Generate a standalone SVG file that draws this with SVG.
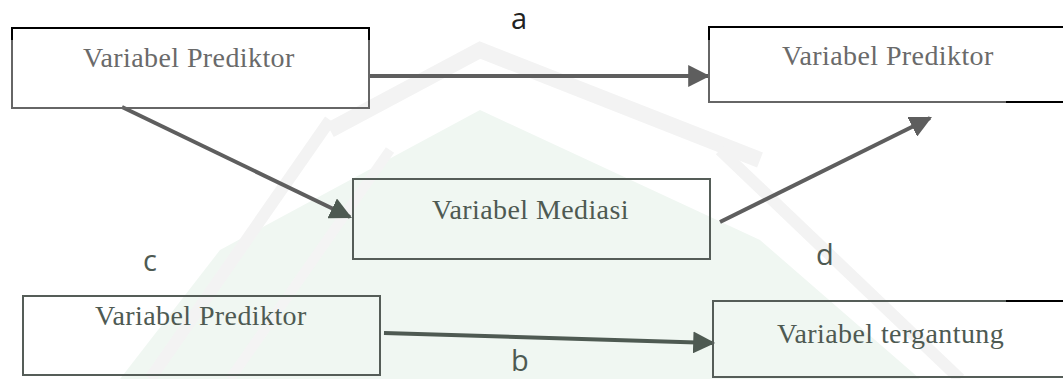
<svg xmlns="http://www.w3.org/2000/svg" width="1063" height="379" viewBox="0 0 1063 379">
<defs>
<style>
.box{fill:none;stroke:#666;stroke-width:2}
.blk{fill:none;stroke:#000;stroke-width:2}
.lbl{font-family:"Liberation Serif","Times New Roman",serif;font-size:28px;fill:#6a6a6a;letter-spacing:0.4px}
.lbl2{font-family:"Liberation Serif","Times New Roman",serif;font-size:28px;fill:#4e5a52;letter-spacing:0.4px}
.ltr{font-family:"Open Sans","Liberation Sans",sans-serif;font-size:29px;fill:#222}
.ltr2{font-family:"Open Sans","Liberation Sans",sans-serif;font-size:29px;fill:#4e5a52}
.con{stroke:#5e5e5e;stroke-width:4;fill:none}
.con2{stroke:#4e5a52;stroke-width:4;fill:none}
</style>
<marker id="ah" viewBox="0 0 10 10" refX="9" refY="5" markerWidth="5.5" markerHeight="5.5" markerUnits="strokeWidth" orient="auto">
<path d="M0,0 L10,5 L0,10 z" fill="#5e5e5e"/>
</marker>
<marker id="ah2" viewBox="0 0 10 10" refX="9" refY="5" markerWidth="5.5" markerHeight="5.5" markerUnits="strokeWidth" orient="auto">
<path d="M0,0 L10,5 L0,10 z" fill="#4e5a52"/>
</marker>
</defs>
<rect width="1063" height="379" fill="#fff"/>
<g id="watermark">
<path d="M120,379 L220,250 L480,110 L760,240 L920,379 Z" fill="#f0f7f2"/>
<path d="M330,130 L480,50 L760,160" fill="none" stroke="#f3f3f3" stroke-width="16"/>
<path d="M150,379 L330,120" fill="none" stroke="#f3f3f3" stroke-width="12"/>
<path d="M230,379 L390,150" fill="none" stroke="#f4f4f4" stroke-width="10"/>
<path d="M720,150 L960,379" fill="none" stroke="#f3f3f3" stroke-width="12"/>
</g>
<g id="connectors">
<line class="con" x1="369" y1="76" x2="708" y2="76" marker-end="url(#ah)"/>
<line class="con" x1="122" y1="107" x2="350" y2="217" marker-end="url(#ah2)"/>
<line class="con" x1="720" y1="222" x2="930" y2="118" marker-end="url(#ah)"/>
<line class="con2" x1="384" y1="333" x2="713" y2="343" marker-end="url(#ah2)"/>
</g>
<g id="node1">
<rect class="box" x="12" y="28" width="357" height="80" fill="#fff"/>
<path class="blk" d="M12,40 L12,28 L369,28 L369,40"/>
<text class="lbl" x="83" y="67">Variabel Prediktor</text>
</g>
<g id="node2">
<path class="box" d="M1070,27 L709,27 L709,102 L1006,102"/>
<path class="blk" d="M709,40 L709,27 L1070,27"/>
<path class="blk" d="M1006,102 L1070,102"/>
<text class="lbl" x="782" y="65">Variabel Prediktor</text>
</g>
<g id="node3">
<rect class="box" x="353" y="179" width="357" height="80" style="stroke:#555d58"/>
<text class="lbl2" x="432" y="219">Variabel Mediasi</text>
</g>
<g id="node4">
<rect class="box" x="23" y="296" width="357" height="79" style="stroke:#555d58"/>
<text class="lbl2" x="95" y="325">Variabel Prediktor</text>
</g>
<g id="node5">
<path class="box" d="M1006,301 L713,301 L713,377 L1070,377" style="stroke:#555d58"/>
<path class="blk" d="M1006,301 L1070,301"/>
<text class="lbl2" x="777" y="343">Variabel tergantung</text>
</g>
<g id="labels">
<text class="ltr" x="511" y="29">a</text>
<text class="ltr2" x="143" y="271">c</text>
<text class="ltr2" x="816" y="265">d</text>
<text class="ltr2" x="511" y="371">b</text>
</g>
</svg>
